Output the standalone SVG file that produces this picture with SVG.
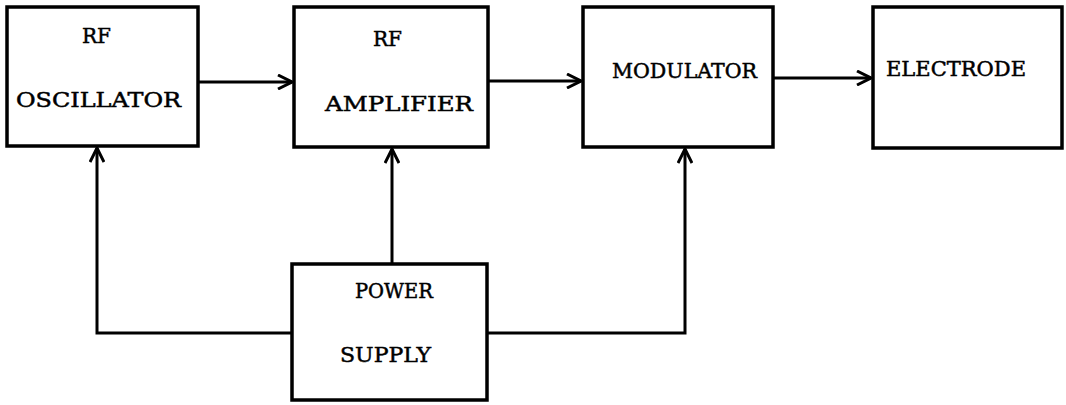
<svg xmlns="http://www.w3.org/2000/svg" width="1066" height="405" viewBox="0 0 1066 405">
<defs>
<marker id="arr" viewBox="0 0 16 16" refX="15" refY="8" markerWidth="16" markerHeight="16" markerUnits="userSpaceOnUse" orient="auto">
<path d="M1,1 L15,8 L1,15" fill="none" stroke="#000" stroke-width="3" stroke-linejoin="miter"/>
</marker>
</defs>
<style>
.box{fill:#fff;stroke:#000;stroke-width:3.5}
.lbl{font-family:"DejaVu Serif","Liberation Serif",serif;font-size:21px;fill:#000;stroke:#000;stroke-width:0.5}
.con{fill:none;stroke:#000;stroke-width:3;marker-end:url(#arr)}
</style>
<rect width="1066" height="405" fill="#fff"/>
<g id="rf-oscillator">
<rect class="box" x="7" y="7" width="191" height="139"/>
<text class="lbl" x="82" y="43" textLength="29" lengthAdjust="spacingAndGlyphs">RF</text>
<text class="lbl" x="16" y="107" textLength="165" lengthAdjust="spacingAndGlyphs">OSCILLATOR</text>
</g>
<g id="rf-amplifier">
<rect class="box" x="294" y="7" width="194" height="140"/>
<text class="lbl" x="373" y="46" textLength="29" lengthAdjust="spacingAndGlyphs">RF</text>
<text class="lbl" x="325" y="111" textLength="148" lengthAdjust="spacingAndGlyphs">AMPLIFIER</text>
</g>
<g id="modulator">
<rect class="box" x="583" y="7" width="190" height="140"/>
<text class="lbl" x="612" y="78" textLength="145" lengthAdjust="spacingAndGlyphs">MODULATOR</text>
</g>
<g id="electrode">
<rect class="box" x="873" y="7" width="189" height="141"/>
<text class="lbl" x="886" y="76" textLength="140" lengthAdjust="spacingAndGlyphs">ELECTRODE</text>
</g>
<g id="power-supply">
<rect class="box" x="292" y="264" width="195" height="136"/>
<text class="lbl" x="355" y="298" textLength="78" lengthAdjust="spacingAndGlyphs">POWER</text>
<text class="lbl" x="340" y="362" textLength="91" lengthAdjust="spacingAndGlyphs">SUPPLY</text>
</g>
<g id="connectors">
<path class="con" d="M198,82 L292,82"/>
<path class="con" d="M488,81 L581,81"/>
<path class="con" d="M773,78 L871,78"/>
<path class="con" d="M292,333 L97,333 L97,148"/>
<path class="con" d="M392,264 L392,149"/>
<path class="con" d="M487,333 L685,333 L685,149"/>
</g>
</svg>
